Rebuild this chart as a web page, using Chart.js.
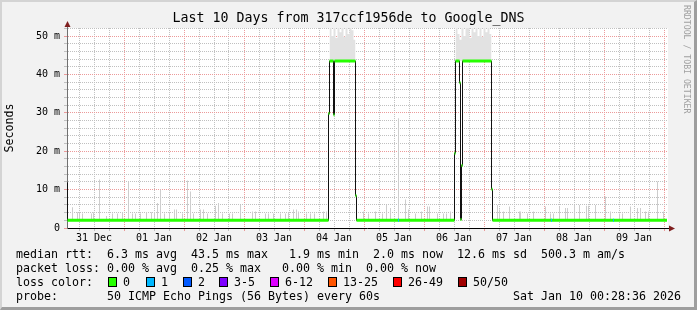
<!DOCTYPE html>
<html>
<head>
<meta charset="utf-8">
<script src="https://cdn.jsdelivr.net/npm/chart.js@4.4.1/dist/chart.umd.min.js"></script>
<style>
  body { margin: 0; background: #f2f2f2; }
  #graph { position: relative; width: 697px; height: 310px; background: #f2f2f2; overflow: hidden; }
  #graph::after { content: ''; position: absolute; left: 0; top: 0; right: 0; bottom: 0; box-sizing: border-box;
    border-style: solid; border-width: 2px 3px 3px 2px; border-color: #d4d4d4 #9e9e9e #9e9e9e #d4d4d4; pointer-events: none; }
  #graph canvas { position: absolute; left: 0; top: 0; }
  .txt { position: absolute; font: 11.63px 'DejaVu Sans Mono', monospace; line-height: 14px; white-space: pre; color: #000; }
  .box { position: absolute; top: 277px; width: 7px; height: 8px; border: 1px solid #000; }
  #mark { position: absolute; left: 683px; top: 5px; font: 8.2px 'DejaVu Sans Mono', monospace; line-height: 8px;
    writing-mode: vertical-rl; color: #a0a0a0; white-space: pre; }
</style>
</head>
<body>
<div id="graph">
  <canvas id="chart" width="697" height="310"></canvas>
  <div class="txt" style="left:16px;top:247px">median rtt:  6.3 ms avg  43.5 ms max   1.9 ms min  2.0 ms now  12.6 ms sd  500.3 m am/s</div>
  <div class="txt" style="left:16px;top:261px">packet loss: 0.00 % avg  0.25 % max   0.00 % min  0.00 % now</div>
  <div class="txt" style="left:16px;top:275px">loss color:</div>
  <div id="legend"></div>
  <div class="txt" style="left:16px;top:289px">probe:       50 ICMP Echo Pings (56 Bytes) every 60s</div>
  <div class="txt" style="left:513px;top:289px">Sat Jan 10 00:28:36 2026</div>
  <div id="mark">RRDTOOL / TOBI OETIKER</div>
</div>
<script>
// hours are counted from 31 Dec 00:00, the graph spans 10 days
const dayLabels = ['31 Dec', '01 Jan', '02 Jan', '03 Jan', '04 Jan', '05 Jan', '06 Jan', '07 Jan', '08 Jan', '09 Jan'];
const yLabelValues = [0, 10, 20, 30, 40, 50];
const yLabelTexts = ['0', '10 m', '20 m', '30 m', '40 m', '50 m'];

// median rtt (ms), each value holds until the next hour in the list
const medianHours = [1.2, 1.4, 105.8, 106.2, 107.8, 108.2, 116.6, 117.0, 156.2, 156.6, 158.2, 158.6, 159.0, 159.4, 171.0, 171.4, 241.2];
const medianValues = [11.8, 2.0, 29.8, 43.5, 29.5, 43.5, 8.4, 2.0, 19.5, 43.5, 37.8, 2.2, 16.3, 43.5, 10.1, 2.0, 2.0];

// steps with lost pings
const lossHours = [133.8, 195.0, 219.8];
const lossCounts = [1, 1, 1];

// smoke spikes while the median is low: hour and top of the spread (ms)
const smokeHours = [3.4, 5.4, 6.2, 7.4, 11.0, 11.8, 14.2, 17.0, 19.4, 21.4, 23.4, 25.8, 27.4, 28.6, 30.6, 33.0, 35.0, 36.2,
  37.4, 38.6, 40.2, 42.2, 44.2, 45.0, 47.4, 49.4, 50.6, 51.8, 54.6, 55.8, 57.4, 60.6, 61.8, 63.4, 66.2, 67.4, 70.6, 75.4,
  76.6, 80.6, 81.8, 83.8, 86.6, 88.6, 89.8, 91.8, 93.0, 93.8, 97.0, 98.6, 100.2, 103.8, 105.0, 119.8, 121.8, 124.6, 127.4,
  129.0, 130.6, 133.8, 136.6, 137.8, 140.6, 143.0, 145.4, 146.2, 149.4, 151.8, 153.0, 154.6, 173.4, 174.2, 175.8, 178.2,
  182.2, 182.6, 185.4, 187.8, 192.6, 194.6, 195.8, 198.2, 200.6, 201.4, 204.2, 206.2, 209.0, 209.8, 212.6, 216.6, 218.6,
  222.2, 223.4, 226.6, 229.4, 230.6, 232.6, 233.8, 237.4, 239.8];
const smokeTops = [5.4, 4.1, 4.0, 3.8, 3.8, 4.1, 12.6, 3.1, 3.8, 3.8, 4.1, 12.1, 3.8, 3.8, 3.8, 4.1, 4.1, 4.1,
  6.5, 10.0, 3.8, 4.1, 4.8, 4.8, 3.8, 12.4, 9.5, 3.8, 4.8, 4.8, 3.8, 5.8, 6.5, 3.8, 3.8, 3.8, 6.0, 4.3,
  4.3, 3.8, 3.8, 3.8, 3.8, 3.8, 4.0, 4.8, 4.8, 4.3, 3.8, 3.8, 3.8, 4.3, 4.3, 4.3, 3.8, 4.3, 3.8,
  6.0, 5.2, 28.6, 7.4, 4.8, 3.8, 4.3, 5.6, 5.6, 3.8, 3.8, 3.8, 4.3, 6.0, 4.8, 4.3, 5.6,
  4.3, 4.3, 3.8, 4.3, 5.6, 3.8, 3.8, 5.6, 5.2, 5.2, 6.0, 6.0, 5.8, 5.8, 6.0, 8.2, 4.3,
  3.8, 3.8, 5.6, 5.2, 5.2, 4.3, 4.3, 12.1, 4.3];

// smoke above the median during the two high periods (null splits them)
const smokeHighHours = [106.2, 107.0, 107.8, 108.6, 109.4, 110.2, 111.0, 111.8, 112.6, 113.4, 114.2, 115.0, 115.8, 116.6, 116.6,
  156.6, 157.4, 158.2, 159.0, 159.8, 160.6, 161.4, 162.2, 163.0, 163.8, 164.6, 165.4, 166.2, 167.0, 167.8, 168.6, 169.4, 170.2, 171.0];
const smokeHighTops = [52.5, 50.0, 52.5, 49.5, 52.5, 51.0, 52.5, 49.8, 52.5, 50.5, 52.5, 51.5, 49.0, 49.0, null,
  52.5, 50.5, 49.0, 52.5, 50.0, 52.5, 52.5, 49.5, 52.5, 51.0, 52.5, 50.0, 52.5, 49.8, 52.5, 51.0, 52.5, 50.5, 50.5];
const smokeBase = 43.5;

const lossLabels = ['0', '1', '2', '3-5', '6-12', '13-25', '26-49', '50/50'];
const lossColors = ['#26ff00', '#00b8ff', '#0059ff', '#7e00ff', '#dd00ff', '#ff5500', '#ff0000', '#a10000'];
const legendX = [108, 146, 183, 219, 270, 328, 393, 458];

const gridMinor = '#c0c0c0';
const gridMajor = '#ec9a9a';
const mono = "'DejaVu Sans Mono', monospace";

function medianAt(h) {
    let v = medianValues[0];
    for (let i = 0; i < medianHours.length; i++) {
        if (medianHours[i] <= h) v = medianValues[i];
    }
    return v;
}

function lossBucket(n) {
    if (n <= 2) return n;
    if (n <= 5) return 3;
    if (n <= 12) return 4;
    if (n <= 25) return 5;
    if (n <= 49) return 6;
    return 7;
}

// legend boxes
const legend = document.getElementById('legend');
lossLabels.forEach((label, i) => {
    const box = document.createElement('div');
    box.className = 'box';
    box.style.left = legendX[i] + 'px';
    box.style.background = lossColors[i];
    legend.appendChild(box);
    const txt = document.createElement('div');
    txt.className = 'txt';
    txt.style.left = (legendX[i] + 15) + 'px';
    txt.style.top = '275px';
    txt.textContent = label;
    legend.appendChild(txt);
});

const smokeBars = smokeHours.map((h, i) => ({x: h, y: [medianAt(h), smokeTops[i]]}));
const smokeHigh = smokeHighHours.map((h, i) => ({x: h, y: smokeHighTops[i]}));
const medianLine = medianHours.map((h, i) => ({x: h, y: medianValues[i]}));

var band = [];
for (var i = 0; i < medianHours.length - 1; i++) {
    band.push({x: medianHours[i], y: medianValues[i]});
    band.push({x: medianHours[i + 1], y: medianValues[i]});
    band.push({x: medianHours[i + 1], y: null});
}

var lossBand = [];
lossHours.forEach((h, i) => {
    const m = medianAt(h);
    lossBand.push({x: h - 0.2, y: m, loss: lossCounts[i]});
    lossBand.push({x: h + 0.2, y: m, loss: lossCounts[i]});
    lossBand.push({x: h + 0.2, y: null});
});

var xTicks = [];
for (var h = 6; h <= 240; h += 6) xTicks.push({value: h});
var yTicks = [];
for (var v = 0; v <= 52; v += 2) yTicks.push({value: v});

const plotBackground = {
    id: 'plotBackground',
    beforeDraw(chart) {
        const {ctx, chartArea} = chart;
        ctx.save();
        ctx.fillStyle = '#ffffff';
        ctx.fillRect(chartArea.left, chartArea.top, chartArea.right - chartArea.left + 1, chartArea.bottom - chartArea.top);
        ctx.restore();
    }
};

const axisArrows = {
    id: 'axisArrows',
    afterDraw(chart) {
        const {ctx, chartArea} = chart;
        const l = chartArea.left + 0.5, b = chartArea.bottom + 0.5, r = chartArea.right, t = chartArea.top;
        ctx.save();
        ctx.lineWidth = 1;
        ctx.strokeStyle = '#000';
        ctx.beginPath();
        ctx.moveTo(r, b);
        ctx.lineTo(r + 3, b);
        ctx.stroke();
        ctx.strokeStyle = '#707070';
        ctx.beginPath();
        ctx.moveTo(l, t);
        ctx.lineTo(l, t - 2);
        ctx.stroke();
        ctx.fillStyle = '#7f1f1f';
        ctx.beginPath();
        ctx.moveTo(r + 2, b - 3);
        ctx.lineTo(r + 8, b);
        ctx.lineTo(r + 2, b + 3);
        ctx.closePath();
        ctx.fill();
        ctx.beginPath();
        ctx.moveTo(l - 3, t - 1);
        ctx.lineTo(l, t - 7);
        ctx.lineTo(l + 3, t - 1);
        ctx.closePath();
        ctx.fill();
        ctx.restore();
    }
};

new Chart(document.getElementById('chart'), {
    type: 'line',
    data: {
        datasets: [
            {
                type: 'bar', label: 'smoke', data: smokeBars, order: 4,
                backgroundColor: '#cdcdcd', borderWidth: 0, borderSkipped: false,
                barThickness: 1, grouped: false, inflateAmount: 0
            },
            {
                label: 'smoke high', data: smokeHigh, order: 3, stepped: true,
                borderWidth: 0, pointRadius: 0, backgroundColor: '#e2e2e2',
                fill: {value: smokeBase}, spanGaps: false
            },
            {
                label: 'median', data: medianLine, order: 2, stepped: true,
                borderColor: '#111111', borderWidth: 1, pointRadius: 0, fill: false
            },
            {
                label: 'loss 0', data: band, order: 1,
                borderColor: lossColors[0], borderWidth: 3, borderCapStyle: 'butt',
                pointRadius: 0, fill: false, spanGaps: false
            },
            {
                label: 'loss', data: lossBand, order: 0,
                borderColor: lossColors[1], borderWidth: 3, borderCapStyle: 'butt',
                pointRadius: 0, fill: false, spanGaps: false,
                segment: {borderColor: ctx => lossColors[lossBucket(ctx.p0.raw.loss || 0)]}
            }
        ]
    },
    options: {
        responsive: false,
        animation: false,
        devicePixelRatio: 1,
        events: [],
        font: {family: mono},
        layout: {padding: 0},
        plugins: {
            legend: {display: false},
            tooltip: {enabled: false},
            title: {
                display: true,
                text: 'Last 10 Days from 317ccf1956de to Google_DNS',
                color: '#000',
                font: {family: mono, size: 13.3, weight: 'normal'},
                padding: {top: 11, bottom: 1}
            }
        },
        scales: {
            x: {
                type: 'linear', min: 1.2, max: 241.2, offset: false,
                afterBuildTicks: s => { s.ticks = xTicks.slice(); },
                afterFit: s => { s.height = 82; },
                ticks: {
                    autoSkip: false, maxRotation: 0, padding: 1, color: '#000',
                    font: {family: mono, size: 10},
                    callback: value => (value % 24 === 12 ? dayLabels[(value - 12) / 24] : '')
                },
                grid: {
                    offset: false, lineWidth: 1, tickLength: 3, drawTicks: true,
                    color: c => (c.tick && c.tick.value % 24 === 0 ? gridMajor : gridMinor),
                    tickColor: c => (c.tick && c.tick.value % 24 === 0 ? gridMajor : gridMinor),
                    borderDash: [1, 1]
                },
                border: {display: true, color: '#000', width: 1, dash: [1, 1]}
            },
            y: {
                type: 'linear', min: 0, max: 52.1, position: 'left',
                afterBuildTicks: s => { s.ticks = yTicks.slice(); },
                afterFit: s => { s.width = 67; },
                ticks: {
                    autoSkip: false, padding: 4, color: '#000',
                    font: {family: mono, size: 10},
                    callback: value => {
                        const k = yLabelValues.indexOf(value);
                        return k >= 0 ? yLabelTexts[k] : '';
                    }
                },
                grid: {
                    lineWidth: 1, tickLength: 3, drawTicks: true,
                    color: c => (c.tick && c.tick.value % 10 === 0 ? gridMajor : gridMinor),
                    tickColor: c => (c.tick && c.tick.value % 10 === 0 ? gridMajor : gridMinor),
                    borderDash: [1, 1]
                },
                border: {display: true, color: '#707070', width: 1, dash: [1, 1]},
                title: {
                    display: true, text: 'Seconds', color: '#000',
                    font: {family: mono, size: 11.63},
                    padding: {top: 3, bottom: 0}
                }
            },
            yRight: {
                type: 'linear', position: 'right', display: true,
                afterFit: s => { s.width = 30; },
                ticks: {display: false},
                grid: {display: false, drawOnChartArea: false, drawTicks: false},
                border: {display: false}
            }
        }
    },
    plugins: [plotBackground, axisArrows]
});
</script>
</body>
</html>
